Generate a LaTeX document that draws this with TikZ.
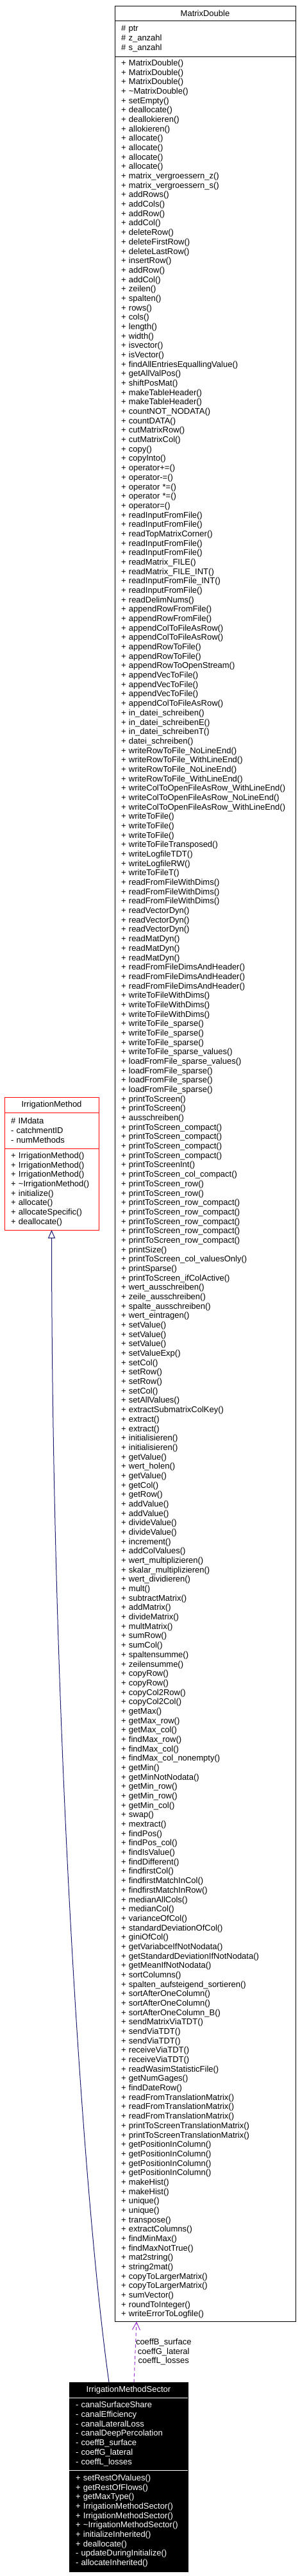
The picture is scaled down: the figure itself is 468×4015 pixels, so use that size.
\documentclass[tikz,border=0pt]{standalone}
\usepackage{fontspec}
\setmainfont{Liberation Sans}
\usepackage{xcolor}
\usepackage{tikz}
\usetikzlibrary{positioning, arrows.meta}

\definecolor{inheritblue}{HTML}{191970}
\definecolor{usagepurple}{HTML}{9A32CD}

\begin{document}
\begin{tikzpicture}[x=1pt, y=-1pt,
    every node/.style={font=\fontsize{13pt}{14.68pt}\selectfont, outer sep=0pt},
    cbox/.style={draw=black, line width=1pt},
    ctitle/.style={cbox, inner sep=0pt},
    cpart/.style={cbox, inner xsep=10pt, inner ysep=0pt, align=left},
    inherit/.style={draw=inheritblue, line width=1pt, -{Triangle[open, length=13pt, width=11pt]}},
    usedby/.style={draw=usagepurple, line width=1pt, dash pattern=on 5pt off 4pt, -{Straight Barb[length=12pt, width=12pt]}}]
        \useasboundingbox (0,0) rectangle (468,4015);

        % MatrixDouble
        \node[ctitle, minimum width=282pt, minimum height=23.4pt, anchor=north west] (md) at (179,9.3) {MatrixDouble};
        \node[cpart, text width=262pt, minimum height=55.6pt, below=0pt of md] (mdattr) {\# ptr\\\# z\_anzahl\\\# s\_anzahl};
        \node[cpart, text width=262pt, minimum height=3530pt, below=0pt of mdattr] (mdmeth) {%
          + MatrixDouble()\\+ MatrixDouble()\\+ MatrixDouble()\\+ \textasciitilde MatrixDouble()\\
          + setEmpty()\\+ deallocate()\\+ deallokieren()\\+ allokieren()\\
          + allocate()\\+ allocate()\\+ allocate()\\+ allocate()\\
          + matrix\_vergroessern\_z()\\+ matrix\_vergroessern\_s()\\
          + addRows()\\+ addCols()\\+ addRow()\\+ addCol()\\
          + deleteRow()\\+ deleteFirstRow()\\+ deleteLastRow()\\+ insertRow()\\
          + addRow()\\+ addCol()\\+ zeilen()\\+ spalten()\\+ rows()\\+ cols()\\
          + length()\\+ width()\\+ isvector()\\+ isVector()\\
          + findAllEntriesEquallingValue()\\+ getAllValPos()\\+ shiftPosMat()\\
          + makeTableHeader()\\+ makeTableHeader()\\+ countNOT\_NODATA()\\+ countDATA()\\
          + cutMatrixRow()\\+ cutMatrixCol()\\+ copy()\\+ copyInto()\\
          + operator+=()\\+ operator-=()\\+ operator *=()\\+ operator *=()\\+ operator=()\\
          + readInputFromFile()\\+ readInputFromFile()\\+ readTopMatrixCorner()\\
          + readInputFromFile()\\+ readInputFromFile()\\+ readMatrix\_FILE()\\
          + readMatrix\_FILE\_INT()\\+ readInputFromFile\_INT()\\+ readInputFromFile()\\
          + readDelimNums()\\+ appendRowFromFile()\\+ appendRowFromFile()\\
          + appendColToFileAsRow()\\+ appendColToFileAsRow()\\
          + appendRowToFile()\\+ appendRowToFile()\\+ appendRowToOpenStream()\\
          + appendVecToFile()\\+ appendVecToFile()\\+ appendVecToFile()\\
          + appendColToFileAsRow()\\+ in\_datei\_schreiben()\\+ in\_datei\_schreibenE()\\
          + in\_datei\_schreibenT()\\+ datei\_schreiben()\\
          + writeRowToFile\_NoLineEnd()\\+ writeRowToFile\_WithLineEnd()\\
          + writeRowToFile\_NoLineEnd()\\+ writeRowToFile\_WithLineEnd()\\
          + writeColToOpenFileAsRow\_WithLineEnd()\\+ writeColToOpenFileAsRow\_NoLineEnd()\\
          + writeColToOpenFileAsRow\_WithLineEnd()\\
          + writeToFile()\\+ writeToFile()\\+ writeToFile()\\+ writeToFileTransposed()\\
          + writeLogfileTDT()\\+ writeLogfileRW()\\+ writeToFileT()\\
          + readFromFileWithDims()\\+ readFromFileWithDims()\\+ readFromFileWithDims()\\
          + readVectorDyn()\\+ readVectorDyn()\\+ readVectorDyn()\\
          + readMatDyn()\\+ readMatDyn()\\+ readMatDyn()\\
          + readFromFileDimsAndHeader()\\+ readFromFileDimsAndHeader()\\+ readFromFileDimsAndHeader()\\
          + writeToFileWithDims()\\+ writeToFileWithDims()\\+ writeToFileWithDims()\\
          + writeToFile\_sparse()\\+ writeToFile\_sparse()\\+ writeToFile\_sparse()\\
          + writeToFile\_sparse\_values()\\+ loadFromFile\_sparse\_values()\\
          + loadFromFile\_sparse()\\+ loadFromFile\_sparse()\\+ loadFromFile\_sparse()\\
          + printToScreen()\\+ printToScreen()\\+ ausschreiben()\\
          + printToScreen\_compact()\\+ printToScreen\_compact()\\+ printToScreen\_compact()\\+ printToScreen\_compact()\\
          + printToScreenInt()\\+ printToScreen\_col\_compact()\\
          + printToScreen\_row()\\+ printToScreen\_row()\\
          + printToScreen\_row\_compact()\\+ printToScreen\_row\_compact()\\+ printToScreen\_row\_compact()\\
          + printToScreen\_row\_compact()\\+ printToScreen\_row\_compact()\\
          + printSize()\\+ printToScreen\_col\_valuesOnly()\\+ printSparse()\\+ printToScreen\_ifColActive()\\
          + wert\_ausschreiben()\\+ zeile\_ausschreiben()\\+ spalte\_ausschreiben()\\+ wert\_eintragen()\\
          + setValue()\\+ setValue()\\+ setValue()\\+ setValueExp()\\
          + setCol()\\+ setRow()\\+ setRow()\\+ setCol()\\+ setAllValues()\\
          + extractSubmatrixColKey()\\+ extract()\\+ extract()\\
          + initialisieren()\\+ initialisieren()\\+ getValue()\\+ wert\_holen()\\+ getValue()\\
          + getCol()\\+ getRow()\\+ addValue()\\+ addValue()\\+ divideValue()\\+ divideValue()\\
          + increment()\\+ addColValues()\\+ wert\_multiplizieren()\\+ skalar\_multiplizieren()\\
          + wert\_dividieren()\\+ mult()\\+ subtractMatrix()\\+ addMatrix()\\+ divideMatrix()\\
          + multMatrix()\\+ sumRow()\\+ sumCol()\\+ spaltensumme()\\+ zeilensumme()\\
          + copyRow()\\+ copyRow()\\+ copyCol2Row()\\+ copyCol2Col()\\
          + getMax()\\+ getMax\_row()\\+ getMax\_col()\\+ findMax\_row()\\+ findMax\_col()\\
          + findMax\_col\_nonempty()\\+ getMin()\\+ getMinNotNodata()\\+ getMin\_row()\\+ getMin\_row()\\
          + getMin\_col()\\+ swap()\\+ mextract()\\+ findPos()\\+ findPos\_col()\\
          + findIsValue()\\+ findDifferent()\\+ findfirstCol()\\+ findfirstMatchInCol()\\+ findfirstMatchInRow()\\
          + medianAllCols()\\+ medianCol()\\+ varianceOfCol()\\+ standardDeviationOfCol()\\+ giniOfCol()\\
          + getVariabceIfNotNodata()\\+ getStandardDeviationIfNotNodata()\\+ getMeanIfNotNodata()\\
          + sortColumns()\\+ spalten\_aufsteigend\_sortieren()\\+ sortAfterOneColumn()\\
          + sortAfterOneColumn()\\+ sortAfterOneColumn\_B()\\+ sendMatrixViaTDT()\\
          + sendViaTDT()\\+ sendViaTDT()\\+ receiveViaTDT()\\+ receiveViaTDT()\\
          + readWasimStatisticFile()\\+ getNumGages()\\+ findDateRow()\\
          + readFromTranslationMatrix()\\+ readFromTranslationMatrix()\\+ readFromTranslationMatrix()\\
          + printToScreenTranslationMatrix()\\+ printToScreenTranslationMatrix()\\
          + getPositionInColumn()\\+ getPositionInColumn()\\+ getPositionInColumn()\\+ getPositionInColumn()\\
          + makeHist()\\+ makeHist()\\+ unique()\\+ unique()\\+ transpose()\\+ extractColumns()\\
          + findMinMax()\\+ findMaxNotTrue()\\+ mat2string()\\+ string2mat()\\
          + copyToLargerMatrix()\\+ copyToLargerMatrix()\\+ sumVector()\\+ roundToInteger()\\
          + writeErrorToLogfile()};

        % IrrigationMethod
        \node[ctitle, draw=red, minimum width=147pt, minimum height=24pt, anchor=north west] (im) at (7,1710) {IrrigationMethod};
        \node[cpart, draw=red, text width=127pt, minimum height=56pt, below=0pt of im] (imattr) {\# IMdata\\- catchmentID\\- numMethods};
        \node[cpart, draw=red, text width=127pt, minimum height=127pt, below=0pt of imattr] (immeth) {%
          + IrrigationMethod()\\+ IrrigationMethod()\\+ IrrigationMethod()\\
          + \textasciitilde IrrigationMethod()\\+ initialize()\\+ allocate()\\
          + allocateSpecific()\\+ deallocate()};

        % IrrigationMethodSector
        \node[ctitle, fill=black, text=white, minimum width=185pt, minimum height=24pt, anchor=north west] (ims) at (108,3713) {IrrigationMethodSector};
        \node[cpart, fill=black, text=white, text width=165pt, minimum height=113pt, below=0pt of ims] (imsattr) {%
          - canalSurfaceShare\\- canalEfficiency\\- canalLateralLoss\\- canalDeepPercolation\\
          - coeffB\_surface\\- coeffG\_lateral\\- coeffL\_losses};
        \node[cpart, fill=black, text=white, text width=165pt, minimum height=158pt, below=0pt of imsattr] (imsmeth) {%
          + setRestOfValues()\\+ getRestOfFlows()\\+ getMaxType()\\
          + IrrigationMethodSector()\\+ IrrigationMethodSector()\\+ \textasciitilde IrrigationMethodSector()\\
          + initializeInherited()\\+ deallocate()\\- updateDuringInitialize()\\- allocateInherited()};
        \draw[white, line width=1pt] (ims.south west) -- (ims.south east);
        \draw[white, line width=1pt] (imsattr.south west) -- (imsattr.south east);

        % Relations
        \draw[inherit] ([xshift=62pt]ims.north west) .. controls (130,3430) and (81,2700) .. (immeth.south);
        \draw[usedby] ([xshift=101pt]ims.north west) -- node[anchor=west, inner sep=1pt, align=center] (coeffs) {coeffB\_surface\\coeffG\_lateral\\coeffL\_losses} ([xshift=34pt]mdmeth.south west);
\end{tikzpicture}
\end{document}
